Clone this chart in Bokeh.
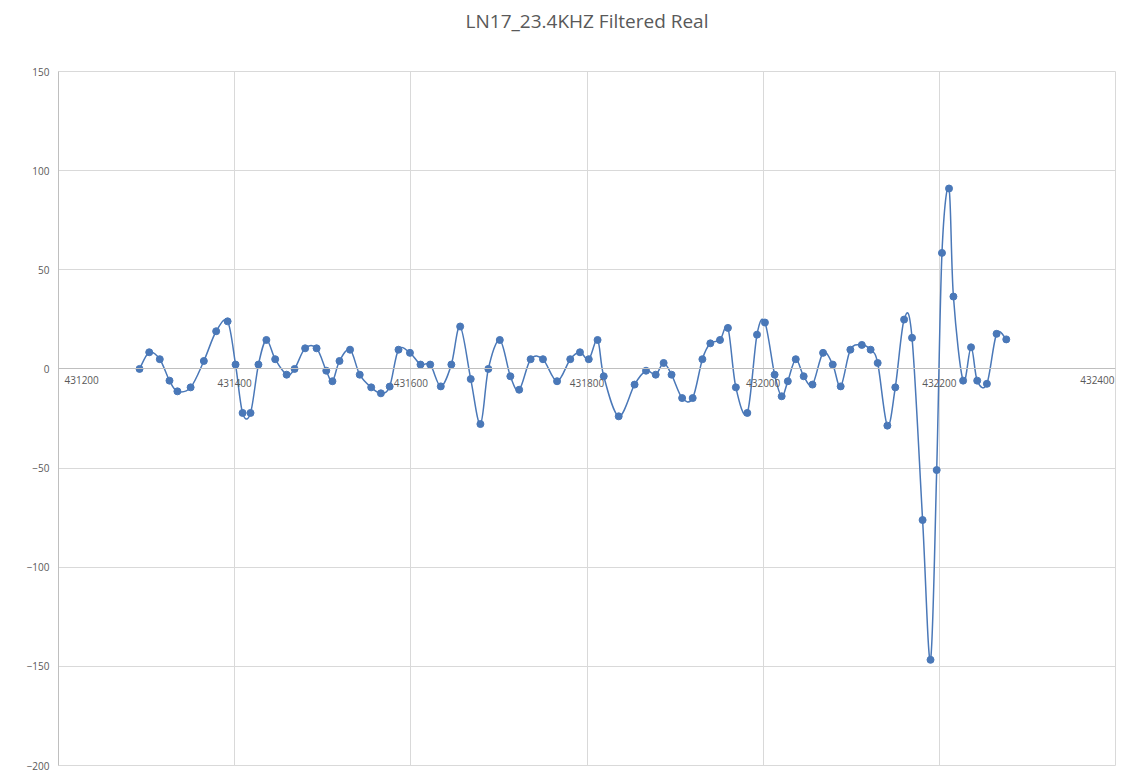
from bokeh.plotting import figure
from bokeh.models import Range1d, FixedTicker, BasicTickFormatter, ColumnDataSource, Title
from bokeh.core.properties import value
from bokeh.embed import file_html
from bokeh.resources import INLINE

TITLE = "LN17_23.4KHZ Filtered Real"

x_vals = [431292, 431303, 431315, 431326, 431335, 431350, 431365, 431379, 431392, 431401,
          431409, 431418, 431427, 431436, 431446, 431459, 431468, 431480, 431493, 431504,
          431511, 431519, 431531, 431542, 431555, 431566, 431576, 431586, 431599, 431611,
          431622, 431634, 431646, 431656, 431668, 431679, 431688, 431701, 431713, 431723,
          431736, 431750, 431766, 431781, 431792, 431802, 431812, 431819, 431836, 431854,
          431867, 431878, 431887, 431896, 431908, 431920, 431931, 431940, 431951, 431960,
          431969, 431982, 431993, 432002, 432013, 432021, 432028, 432037, 432046, 432056,
          432068, 432079, 432088, 432099, 432112, 432122, 432130, 432141, 432150, 432160,
          432169, 432181, 432190, 432197, 432203, 432211, 432216, 432227, 432236, 432243,
          432254, 432265, 432276]

y_vals = [0, 8.4, 4.9, -5.9, -11.3, -9.3, 4, 19, 24, 2.2,
          -22.2, -22.2, 2.2, 14.6, 4.9, -2.9, 0, 10.4, 10.4, -0.9,
          -6.2, 4, 9.7, -2.9, -9.3, -12.3, -8.9, 9.7, 8.1, 2.2,
          2.2, -8.8, 2.2, 21.4, -5.1, -27.8, 0, 14.6, -3.7, -10.5,
          4.9, 4.9, -6.2, 4.9, 8.4, 4.9, 14.6, -3.7, -23.9, -7.9,
          -0.9, -2.9, 3, -2.9, -14.7, -14.7, 4.9, 12.9, 14.6, 20.7,
          -9.3, -22.2, 17.3, 23.4, -2.9, -13.8, -6.2, 4.9, -3.7, -7.9,
          8.1, 2.2, -8.8, 9.7, 12.1, 9.7, 3, -28.6, -9.3, 24.9,
          15.7, -76.2, -146.7, -51, 58.5, 91, 36.5, -5.9, 10.9, -5.9,
          -7.5, 17.7, 14.9]

x_ticks = [431200, 431400, 431600, 431800, 432000, 432200, 432400]
y_ticks = [-200, -150, -100, -50, 0, 50, 100, 150]

BLUE = "#4A78B8"
GRID = "#D9D9D9"
TEXT = "#595959"
FONT = "Open Sans"

p = figure(width=1130, height=772, output_backend="svg", toolbar_location=None,
           x_range=Range1d(431200, 432400), y_range=Range1d(-200, 150),
           min_border_left=58, min_border_right=15, min_border_top=71, min_border_bottom=7,
           title=TITLE)

p.title.align = "center"
p.title.text_font = FONT
p.title.text_font_size = "19px"
p.title.text_font_style = "normal"
p.title.text_color = TEXT
p.title.standoff = 10

# blank spacer panel between the plot area and the title (pushes the title up)
p.add_layout(Title(text=" ", text_font_size="10px", standoff=20), "above")

p.outline_line_color = GRID
p.background_fill_color = "white"
p.border_fill_color = "white"

# x axis crossing at y = 0 (interior tick labels)
xa = p.xaxis[0]
xa.fixed_location = 0
xa.ticker = FixedTicker(ticks=x_ticks[1:-1])
xa.formatter = BasicTickFormatter(use_scientific=False)
xa.major_label_text_font = FONT
xa.major_label_text_font_size = "10px"
xa.major_label_text_color = TEXT
xa.axis_line_color = "#BFBFBF"
xa.major_tick_line_color = None
xa.minor_tick_line_color = None
xa.major_label_standoff = 4

# first and last x tick labels, kept inside the plot area as in the original
edge_src = ColumnDataSource(dict(x=[x_ticks[0], x_ticks[-1]],
                                 y=[0, 0],
                                 t=[str(x_ticks[0]), str(x_ticks[-1])],
                                 a=["left", "right"],
                                 dx=[6, -1]))
p.text(x="x", y="y", text="t", source=edge_src, text_align="a", x_offset="dx",
       y_offset=7, text_baseline="top", text_font=value(FONT), text_font_size="10px",
       text_color=TEXT)

ya = p.yaxis[0]
ya.ticker = FixedTicker(ticks=y_ticks)
ya.major_label_text_font = FONT
ya.major_label_text_font_size = "10px"
ya.major_label_text_color = TEXT
ya.axis_line_color = "#BFBFBF"
ya.major_tick_line_color = None
ya.minor_tick_line_color = None
ya.major_label_standoff = 3

p.xgrid.ticker = FixedTicker(ticks=x_ticks)
p.ygrid.ticker = FixedTicker(ticks=y_ticks)
p.xgrid.grid_line_color = GRID
p.ygrid.grid_line_color = GRID

# smoothed line (Catmull-Rom style Bezier segments between the data points)
n = len(x_vals)
x0, y0, x1, y1, cx0, cy0, cx1, cy1 = [], [], [], [], [], [], [], []
for i in range(n - 1):
    pa = (x_vals[i - 1], y_vals[i - 1]) if i > 0 else (x_vals[i], y_vals[i])
    pb = (x_vals[i], y_vals[i])
    pc = (x_vals[i + 1], y_vals[i + 1])
    pd = (x_vals[i + 2], y_vals[i + 2]) if i + 2 < n else pc
    x0.append(pb[0]); y0.append(pb[1]); x1.append(pc[0]); y1.append(pc[1])
    cx0.append(pb[0] + (pc[0] - pa[0]) / 6.0); cy0.append(pb[1] + (pc[1] - pa[1]) / 6.0)
    cx1.append(pc[0] - (pd[0] - pb[0]) / 6.0); cy1.append(pc[1] - (pd[1] - pb[1]) / 6.0)

seg = ColumnDataSource(dict(x0=x0, y0=y0, x1=x1, y1=y1, cx0=cx0, cy0=cy0, cx1=cx1, cy1=cy1))
p.bezier(x0="x0", y0="y0", x1="x1", y1="y1", cx0="cx0", cy0="cy0", cx1="cx1", cy1="cy1",
         source=seg, line_color=BLUE, line_width=1.5)

src = ColumnDataSource(dict(x=x_vals, y=y_vals))
p.scatter("x", "y", source=src, size=7, fill_color=BLUE, line_color=BLUE)

open("out.html", "w").write(file_html(p, INLINE))
